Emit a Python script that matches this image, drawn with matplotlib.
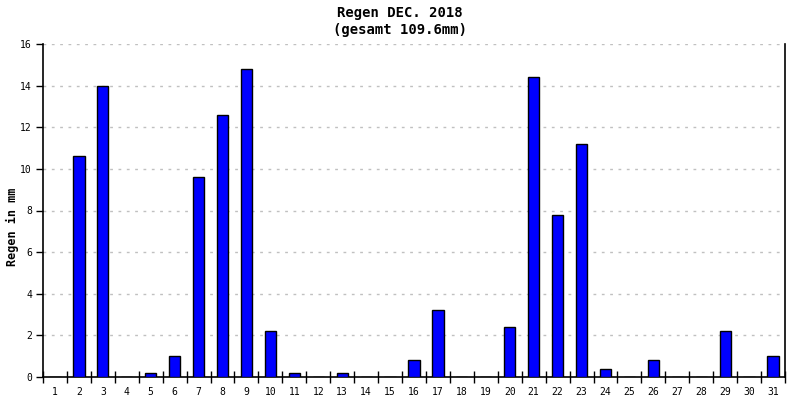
import numpy as np
import matplotlib
matplotlib.use("Agg")
import matplotlib.pyplot as plt

days = [str(d) for d in range(1, 32)]
rain = [0, 10.6, 14.0, 0, 0.2, 1.0, 9.6, 12.6, 14.8, 2.2,
        0.2, 0, 0.2, 0, 0, 0.8, 3.2, 0, 0, 2.4,
        14.4, 7.8, 11.2, 0.4, 0, 0.8, 0, 0, 2.2, 0, 1.0]
y_ticks = [0, 2, 4, 6, 8, 10, 12, 14, 16]

plt.rcParams["font.family"] = "DejaVu Sans Mono"

fig = plt.figure(figsize=(8, 4), dpi=100)
ax = fig.add_axes([43 / 800, 1 - 377 / 400, 742 / 800, 333 / 400])

x = np.arange(len(days))
ax.bar(x, rain, width=0.47, color="#0000ff", edgecolor="black", linewidth=1, zorder=3)

ax.set_xlim(-0.5, len(days) - 0.5)
ax.set_ylim(0, 16)

# category labels centered, ticks at category borders
ax.set_xticks(x)
ax.set_xticklabels(days, fontsize=7)
ax.tick_params(axis="x", length=0, pad=7)
ax.set_xticks(np.arange(len(days) + 1) - 0.5, minor=True)
ax.tick_params(axis="x", which="minor", direction="inout", length=9, width=1)

ax.set_yticks(y_ticks)
ax.set_yticklabels([str(v) for v in y_ticks], fontsize=7)
ax.tick_params(axis="y", direction="out", length=5, width=1, pad=3)

for v in y_ticks[1:]:
    ax.axhline(v, color="#c0c0c0", linestyle=(0, (2, 4)), linewidth=1, zorder=1)

ax.spines["top"].set_visible(False)
for s in ["left", "right", "bottom"]:
    ax.spines[s].set_linewidth(1.2)

ax.set_ylabel("Regen in mm", fontsize=8.5, fontweight="bold")
ax.yaxis.set_label_coords(-0.032, 0.45)
fig.text(0.5, 0.968, "Regen DEC. 2018", ha="center", va="center", fontsize=10, fontweight="bold")
fig.text(0.5, 0.925, "(gesamt 109.6mm)", ha="center", va="center", fontsize=10, fontweight="bold")

fig.savefig("out.png", dpi=100)
